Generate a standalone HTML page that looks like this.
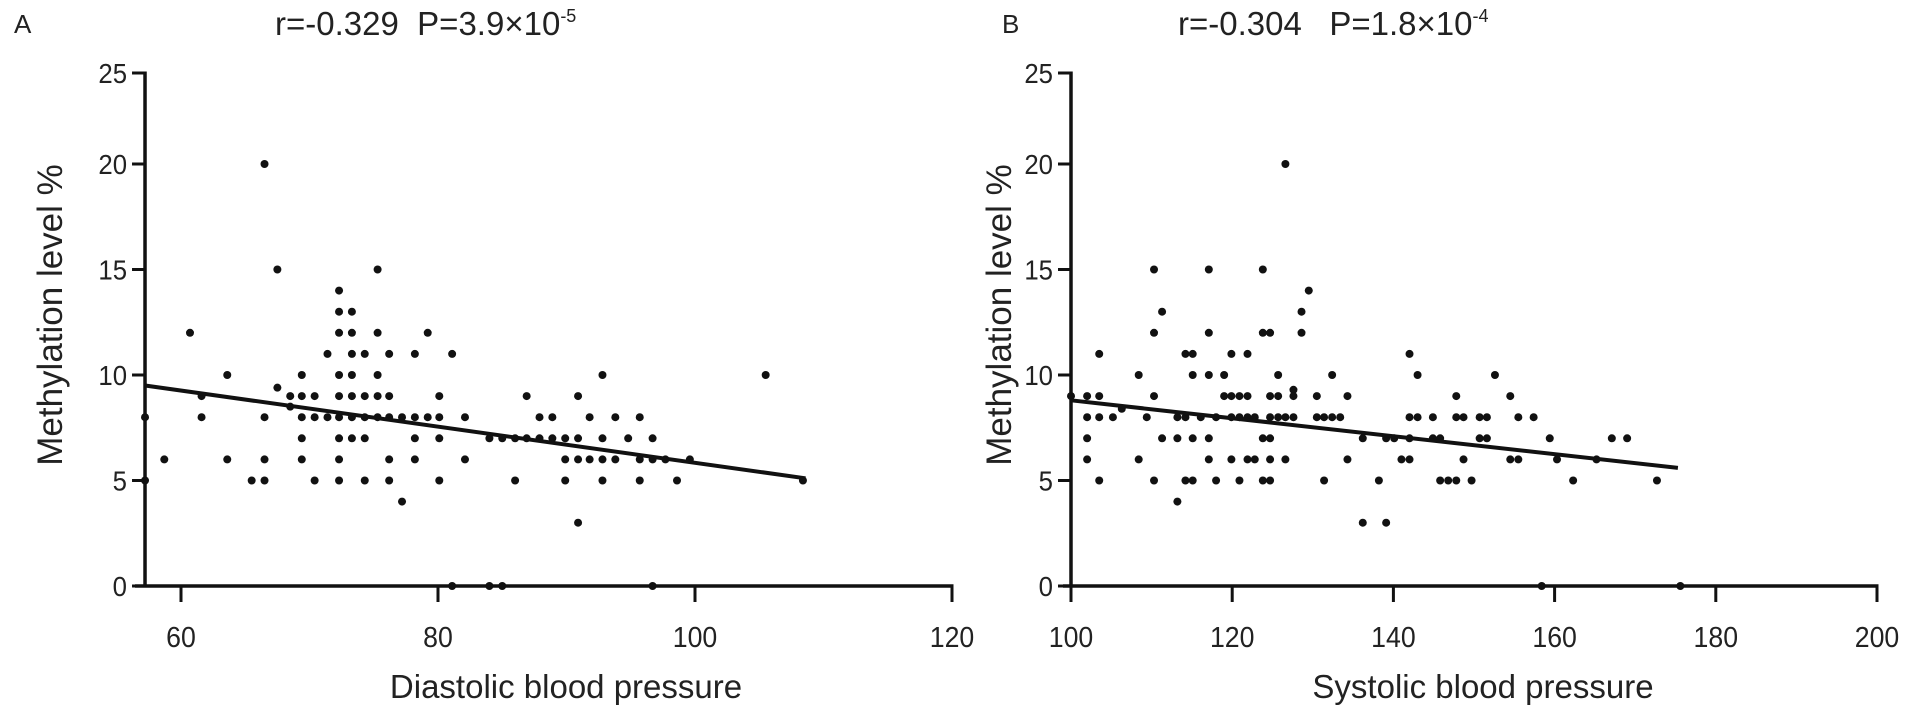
<!DOCTYPE html>
<html><head><meta charset="utf-8">
<style>
html,body{margin:0;padding:0;background:#fff;}
svg{display:block;font-family:"Liberation Sans",Arial,sans-serif;}
</style></head>
<body>
<svg id="chart" width="1914" height="722" viewBox="0 0 1914 722" xmlns="http://www.w3.org/2000/svg">
<rect x="0" y="0" width="1914" height="722" fill="#ffffff"/>
<g id="panelA"></g>
<g id="panelB"></g>
</svg>
<script>
// ---- Panel A data (Diastolic) ----
const aX = [57.2,57.2,58.7,60.7,61.6,61.6,63.6,63.6,65.5,66.5,66.5,66.5,66.5,67.5,67.5,68.5,68.5,
 69.4,69.4,69.4,69.4,69.4,70.4,70.4,70.4,71.4,71.4,
 72.3,72.3,72.3,72.3,72.3,72.3,72.3,72.3,72.3,
 73.3,73.3,73.3,73.3,73.3,73.3,73.3,
 74.3,74.3,74.3,74.3,74.3,
 75.3,75.3,75.3,75.3,75.3,
 76.2,76.2,76.2,76.2,76.2,
 77.2,77.2,78.2,78.2,78.2,78.2,79.2,79.2,
 80.1,80.1,80.1,80.1,81.1,82.1,82.1,
 84.0,85.0,86.0,86.9,87.9,88.9,89.9,90.9,92.8,94.8,96.7,
 86.9,90.9,87.9,88.9,91.8,93.8,95.7,92.8,105.5,
 89.9,90.9,91.8,92.8,93.8,95.7,96.7,97.7,
 86.0,89.9,92.8,95.7,98.6,99.6,90.9,108.4,81.1,84.0,85.0,96.7];
const aY = [8,5,6,12,9,8,10,6,5,20,5,6,8,15,9.4,9,8.5,
 10,9,8,7,6,9,8,5,11,8,
 14,13,12,10,9,8,7,6,5,
 13,12,11,10,9,8,7,
 11,9,8,7,5,
 15,12,10,9,8,
 11,9,8,6,5,
 8,4,11,8,7,6,12,8,
 9,8,7,5,11,8,6,
 7,7,7,7,7,7,7,7,7,7,7,
 9,9,8,8,8,8,8,10,10,
 6,6,6,6,6,6,6,6,
 5,5,5,5,5,6,3,5,0,0,0,0];
const aFit = {slope:-0.0856, intercept:14.4, x0:57.2, x1:108.6};
const aXTicks = [60,80,100,120];
const aYTicks = [0,5,10,15,20,25];

// ---- Panel B data (Systolic) ----
const bX = [110.3,111.3,110.3,103.5,114.2,115.1,108.4,115.1,100,102,103.5,110.3,106.3,
 102,103.5,105.2,109.4,113.2,114.2,102,111.3,113.2,115.1,102,108.4,103.5,110.3,114.2,115.1,113.2,
 126.6,117.1,123.8,129.5,128.6,117.1,123.8,124.7,128.6,119.9,121.9,142.0,117.1,119.0,125.7,132.4,143.0,152.6,127.6,
 119.0,119.9,120.9,121.9,124.7,125.7,127.6,130.5,134.3,
 116.1,118.0,119.9,120.9,121.9,122.8,124.7,125.7,126.6,127.6,130.5,131.4,132.4,133.4,142.0,143.0,144.9,
 117.1,123.8,124.7,136.2,139.1,140.1,142.0,144.9,145.8,
 117.1,119.9,121.9,122.8,124.7,126.6,134.3,141.0,142.0,
 118.0,120.9,123.8,124.7,131.4,138.2,145.8,
 147.8,154.5,147.8,148.7,150.7,151.6,155.5,157.4,150.7,151.6,159.4,167.1,169.0,
 148.7,154.5,155.5,160.3,165.2,146.8,147.8,149.7,162.3,172.7,136.2,139.1,158.4,175.6];
const bY = [15,13,12,11,11,11,10,10,9,9,9,9,8.4,
 8,8,8,8,8,8,7,7,7,7,6,6,5,5,5,5,4,
 20,15,15,14,13,12,12,12,12,11,11,11,10,10,10,10,10,10,9.3,
 9,9,9,9,9,9,9,9,9,
 8,8,8,8,8,8,8,8,8,8,8,8,8,8,8,8,8,
 7,7,7,7,7,7,7,7,7,
 6,6,6,6,6,6,6,6,6,
 5,5,5,5,5,5,5,
 9,9,8,8,8,8,8,8,7,7,7,7,7,
 6,6,6,6,6,5,5,5,5,5,3,3,0,0];
const bFit = {slope:-0.0425, intercept:13.05, x0:100, x1:175.3};
const bXTicks = [100,120,140,160,180,200];
const bYTicks = [0,5,10,15,20,25];

const NS = "http://www.w3.org/2000/svg";
function mk(tag, attrs, parent){
  const e = document.createElementNS(NS, tag);
  for (const k in attrs) e.setAttribute(k, attrs[k]);
  parent.appendChild(e);
  return e;
}

function drawPanel(g, cfg, xs, ys, fit, xt, yt){
  const sx = v => cfg.tx0 + (v - cfg.tv0) * (cfg.tx1 - cfg.tx0) / (cfg.tv1 - cfg.tv0);
  const sy = v => 586 - v * 21.1;
  const tickY = v => Math.max(sy(v), cfg.topY);
  const ax = sx(cfg.xmin);
  const ya = mk('line', {x1:ax, y1:sy(0)+1.5, x2:ax, y2:cfg.topY-1.5, stroke:'#111', 'stroke-width':3.5}, g);
  
  
  const xa = mk('line', {x1:ax-cfg.stub, y1:sy(0), x2:sx(cfg.xmax)+1.5, y2:sy(0), stroke:'#111', 'stroke-width':3.5}, g);
  
  
  yt.forEach(v => {
    const t = mk('line', {x1:ax-13, y1:tickY(v), x2:ax, y2:tickY(v), stroke:'#111', 'stroke-width':3}, g);
    
    
    const l = mk('text', {x:0, y:0, 'text-anchor':'end', 'font-size':28, fill:'#222', transform:'translate(' + (ax-18) + ',' + (tickY(v)+10) + ') scale(0.92,1)'}, g);
    l.textContent = v;
    
    
  });
  xt.forEach(v => {
    const t = mk('line', {x1:sx(v), y1:sy(0), x2:sx(v), y2:sy(0)+16, stroke:'#111', 'stroke-width':3}, g);
    
    
    const l = mk('text', {x:0, y:0, 'text-anchor':'middle', 'font-size':29, fill:'#222', transform:'translate(' + sx(v) + ',647) scale(0.92,1)'}, g);
    l.textContent = v;
    
    
  });
  for (let i = 0; i < xs.length; i++){
    const c = mk('circle', {cx:sx(xs[i]), cy:sy(ys[i]), r:4, fill:'#111'}, g);
    
    
  }
  const rl = mk('line', {x1:sx(fit.x0), y1:sy(fit.intercept + fit.slope*fit.x0), x2:sx(fit.x1), y2:sy(fit.intercept + fit.slope*fit.x1), stroke:'#111', 'stroke-width':4}, g);
  
  
  const xl = mk('text', {x:cfg.xTitleX, y:698, 'text-anchor':'middle', 'font-size':33, fill:'#222'}, g);
  xl.textContent = cfg.xTitle;
  
  
  const yl = mk('text', {x:0, y:0, 'text-anchor':'middle', 'font-size':35, fill:'#222', transform:'translate(' + cfg.yTitleX + ',' + 315 + ') rotate(-90)'}, g);
  yl.textContent = 'Methylation level %';
  
  
  const pl = mk('text', {x:cfg.letterX, y:33, 'font-size':26, fill:'#222'}, g);
  pl.textContent = cfg.letter;
  
  
  const st = mk('text', {x:cfg.statX, y:35, 'font-size':33, fill:'#222'}, g);
  
  
  st.innerHTML = cfg.stat;
}

drawPanel(document.getElementById('panelA'),
  {tv0:60, tv1:120, tx0:181, tx1:952, xmin:57.2, xmax:120, topY:73, stub:10,
   xTitle:'Diastolic blood pressure', xTitleX:566, yTitleX:62, letter:'A', letterX:14,
   statX:275, stat:'r=-0.329&#160;&#160;P=3.9×10<tspan font-size="18" dy="-13">-5</tspan>'},
  aX, aY, aFit, aXTicks, aYTicks);
drawPanel(document.getElementById('panelB'),
  {tv0:100, tv1:200, tx0:1071, tx1:1877, xmin:100, xmax:200, topY:73, stub:8,
   xTitle:'Systolic blood pressure', xTitleX:1483, yTitleX:1011, letter:'B', letterX:1002,
   statX:1178, stat:'r=-0.304&#160;&#160;&#160;P=1.8×10<tspan font-size="18" dy="-13">-4</tspan>'},
  bX, bY, bFit, bXTicks, bYTicks);
</script>
</body></html>
